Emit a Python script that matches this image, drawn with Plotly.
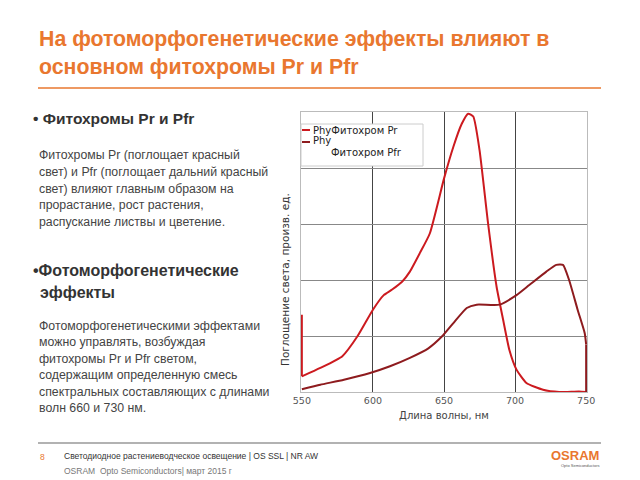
import plotly.graph_objects as go

# ---- data ----
pr_wavelength = [550, 563, 578.5, 589, 600, 607.6, 613.5, 620.5, 626, 633, 640, 650, 656.6,
                 662.5, 667, 670.6, 675, 681, 687, 691.6, 696, 701, 708, 719.7, 731, 745, 750]
pr_absorb = [0.28, 0.43, 0.64, 0.99, 1.47, 1.73, 1.83, 1.97, 2.15, 2.48, 2.83, 3.81, 4.38,
             4.79, 4.97, 4.92, 4.32, 3.01, 1.88, 1.29, 0.75, 0.40, 0.16, 0.04, 0.0, 0.01, 0.0]
# vertical edge segment of the Pr curve at 550 nm
pr_edge_wavelength = [550, 550]
pr_edge_absorb = [1.38, 0.28]

pfr_wavelength = [550, 563, 579.6, 598, 612, 626, 639, 648.5, 656.6, 666, 673, 689, 701, 710,
                  722, 729, 733.7, 738, 744, 749, 750]
pfr_absorb = [0.05, 0.13, 0.22, 0.34, 0.46, 0.61, 0.78, 0.99, 1.23, 1.50, 1.56, 1.56, 1.73, 1.91,
              2.15, 2.27, 2.27, 2.00, 1.47, 1.05, 0.85]
# vertical edge segment of the Pfr curve at 750 nm
pfr_edge_wavelength = [750, 750]
pfr_edge_absorb = [0.85, -0.03]

x_ticks = [550, 600, 650, 700, 750]
series_names = ["PhyФитохром Pr", "Phy", "Фитохром Pfr"]

PR_COLOR = "#CC1A1F"
PFR_COLOR = "#8E1B1E"
ORANGE = "#E9772F"

# plot area in pixels
L, R, T, B = 301, 587, 112, 392
W, H = 640, 480


def px(x):
    return (x - L) / (R - L)


def py(y):
    return (B - y) / (B - T)


fig = go.Figure()
fig.add_trace(go.Scatter(x=pr_wavelength, y=pr_absorb, mode="lines",
                         line=dict(color=PR_COLOR, width=2, shape="spline", smoothing=0.5),
                         name=series_names[0], showlegend=False))
fig.add_trace(go.Scatter(x=pr_edge_wavelength, y=pr_edge_absorb, mode="lines",
                         line=dict(color=PR_COLOR, width=2), showlegend=False, hoverinfo="skip"))
fig.add_trace(go.Scatter(x=pfr_wavelength, y=pfr_absorb, mode="lines",
                         line=dict(color=PFR_COLOR, width=2, shape="spline", smoothing=0.5),
                         name=series_names[1], showlegend=False))
fig.add_trace(go.Scatter(x=pfr_edge_wavelength, y=pfr_edge_absorb, mode="lines",
                         line=dict(color=PFR_COLOR, width=2), showlegend=False, hoverinfo="skip"))

shapes = []
annotations = []

# legend box (drawn manually to match the reference)
shapes.append(dict(type="rect", xref="paper", yref="paper", x0=px(301), x1=px(423),
                   y0=py(166), y1=py(124), fillcolor="white", line=dict(color="#cccccc", width=1),
                   layer="above"))
shapes.append(dict(type="line", xref="paper", yref="paper", x0=px(302), x1=px(310),
                   y0=py(130), y1=py(130), line=dict(color=PR_COLOR, width=2), layer="above"))
shapes.append(dict(type="line", xref="paper", yref="paper", x0=px(302), x1=px(310),
                   y0=py(142), y1=py(142), line=dict(color=PFR_COLOR, width=2), layer="above"))
annotations.append(dict(text=series_names[0], xref="paper", yref="paper", x=px(311), y=py(130),
                        xanchor="left", yanchor="middle", showarrow=False,
                        font=dict(family="DejaVu Sans", size=10, color="#222")))
annotations.append(dict(text=series_names[1], xref="paper", yref="paper", x=px(311), y=py(140),
                        xanchor="left", yanchor="middle", showarrow=False,
                        font=dict(family="DejaVu Sans", size=10, color="#222")))
annotations.append(dict(text=series_names[2], xref="paper", yref="paper", x=px(329), y=py(152),
                        xanchor="left", yanchor="middle", showarrow=False,
                        font=dict(family="DejaVu Sans", size=10, color="#222")))

# y axis title
annotations.append(dict(text="Поглощение света, произв. ед.", xref="paper", yref="paper",
                        x=px(285), y=py(280), textangle=-90, showarrow=False,
                        xanchor="center", yanchor="middle",
                        font=dict(family="DejaVu Sans", size=10.5, color="#333")))

# slide title
annotations.append(dict(text="<b>На фотоморфогенетические эффекты влияют в<br>основном фитохромы Pr и Pfr</b>",
                        xref="paper", yref="paper", x=px(37), y=py(53), xanchor="left",
                        yanchor="middle", align="left", showarrow=False,
                        font=dict(family="Liberation Sans", size=21.3, color=ORANGE)))
shapes.append(dict(type="line", xref="paper", yref="paper", x0=px(38), x1=px(601),
                   y0=py(88), y1=py(88), line=dict(color=ORANGE, width=1.5)))

# left text blocks
annotations.append(dict(text="<b>• Фитохромы Pr и Pfr</b>", xref="paper", yref="paper",
                        x=px(31), y=py(118), xanchor="left", yanchor="middle", showarrow=False,
                        font=dict(family="Liberation Sans", size=15.5, color="#333")))
para1 = ["Фитохромы Pr (поглощает красный", "свет) и Pfr (поглощает дальний красный",
         "свет) влияют главным образом на", "прорастание, рост растения,",
         "распускание листвы и цветение."]
for i, line in enumerate(para1):
    annotations.append(dict(text=line, xref="paper", yref="paper", x=px(37), y=py(155 + i * 16.8),
                            xanchor="left", yanchor="middle", showarrow=False,
                            font=dict(family="Liberation Sans", size=12.3, color="#444")))
annotations.append(dict(text="<b>•Фотоморфогенетические</b>", xref="paper", yref="paper",
                        x=px(31), y=py(270), xanchor="left", yanchor="middle", showarrow=False,
                        font=dict(family="Liberation Sans", size=16, color="#333")))
annotations.append(dict(text="<b>эффекты</b>", xref="paper", yref="paper",
                        x=px(38), y=py(292), xanchor="left", yanchor="middle", showarrow=False,
                        font=dict(family="Liberation Sans", size=16, color="#333")))
para2 = ["Фотоморфогенетическими эффектами", "можно управлять, возбуждая",
         "фитохромы Pr и Pfr светом,", "содержащим определенную смесь",
         "спектральных составляющих с длинами", "волн 660 и 730 нм."]
for i, line in enumerate(para2):
    annotations.append(dict(text=line, xref="paper", yref="paper", x=px(37), y=py(326 + i * 16.4),
                            xanchor="left", yanchor="middle", showarrow=False,
                            font=dict(family="Liberation Sans", size=12.3, color="#444")))

# footer
shapes.append(dict(type="line", xref="paper", yref="paper", x0=px(38), x1=px(601),
                   y0=py(443), y1=py(443), line=dict(color="#999999", width=1.5)))
annotations.append(dict(text="8", xref="paper", yref="paper", x=px(38), y=py(457),
                        xanchor="left", yanchor="middle", showarrow=False,
                        font=dict(family="Liberation Sans", size=8.5, color=ORANGE)))
annotations.append(dict(text="Светодиодное растениеводческое освещение | OS SSL | NR AW",
                        xref="paper", yref="paper", x=px(62), y=py(456),
                        xanchor="left", yanchor="middle", showarrow=False,
                        font=dict(family="Liberation Sans", size=8.5, color="#333")))
annotations.append(dict(text="OSRAM  Opto Semiconductors| март 2015 г",
                        xref="paper", yref="paper", x=px(62), y=py(471),
                        xanchor="left", yanchor="middle", showarrow=False,
                        font=dict(family="Liberation Sans", size=8.5, color="#777")))
annotations.append(dict(text="<b>OSRAM</b>", xref="paper", yref="paper", x=px(601), y=py(455),
                        xanchor="right", yanchor="middle", showarrow=False,
                        font=dict(family="Liberation Sans Narrow, Liberation Sans", size=13, color=ORANGE)))
annotations.append(dict(text="Opto Semiconductors", xref="paper", yref="paper", x=px(601), y=py(465),
                        xanchor="right", yanchor="middle", showarrow=False,
                        font=dict(family="Liberation Sans", size=4, color="#555")))

fig.update_layout(
    width=W, height=H,
    margin=dict(l=L, r=W - R, t=T, b=H - B, pad=0),
    paper_bgcolor="white", plot_bgcolor="white",
    showlegend=False,
    shapes=shapes, annotations=annotations,
    xaxis=dict(range=[549.4, 750.6], tickvals=x_ticks, ticks="", showgrid=True,
               gridcolor="#444444", gridwidth=1, zeroline=False,
               showline=True, linecolor="#bbbbbb", mirror=True,
               tickfont=dict(family="DejaVu Sans", size=9.5, color="#555"),
               title=dict(text="Длина волны, нм", standoff=6,
                          font=dict(family="DejaVu Sans", size=10, color="#444"))),
    yaxis=dict(range=[0, 5], dtick=1, showticklabels=False, ticks="", showgrid=True,
               gridcolor="#888888", gridwidth=1, zeroline=False,
               showline=True, linecolor="#bbbbbb", mirror=True),
)

fig.write_html("out.html", config={"displayModeBar": False},
               post_script="document.body.style.margin='0px';")
